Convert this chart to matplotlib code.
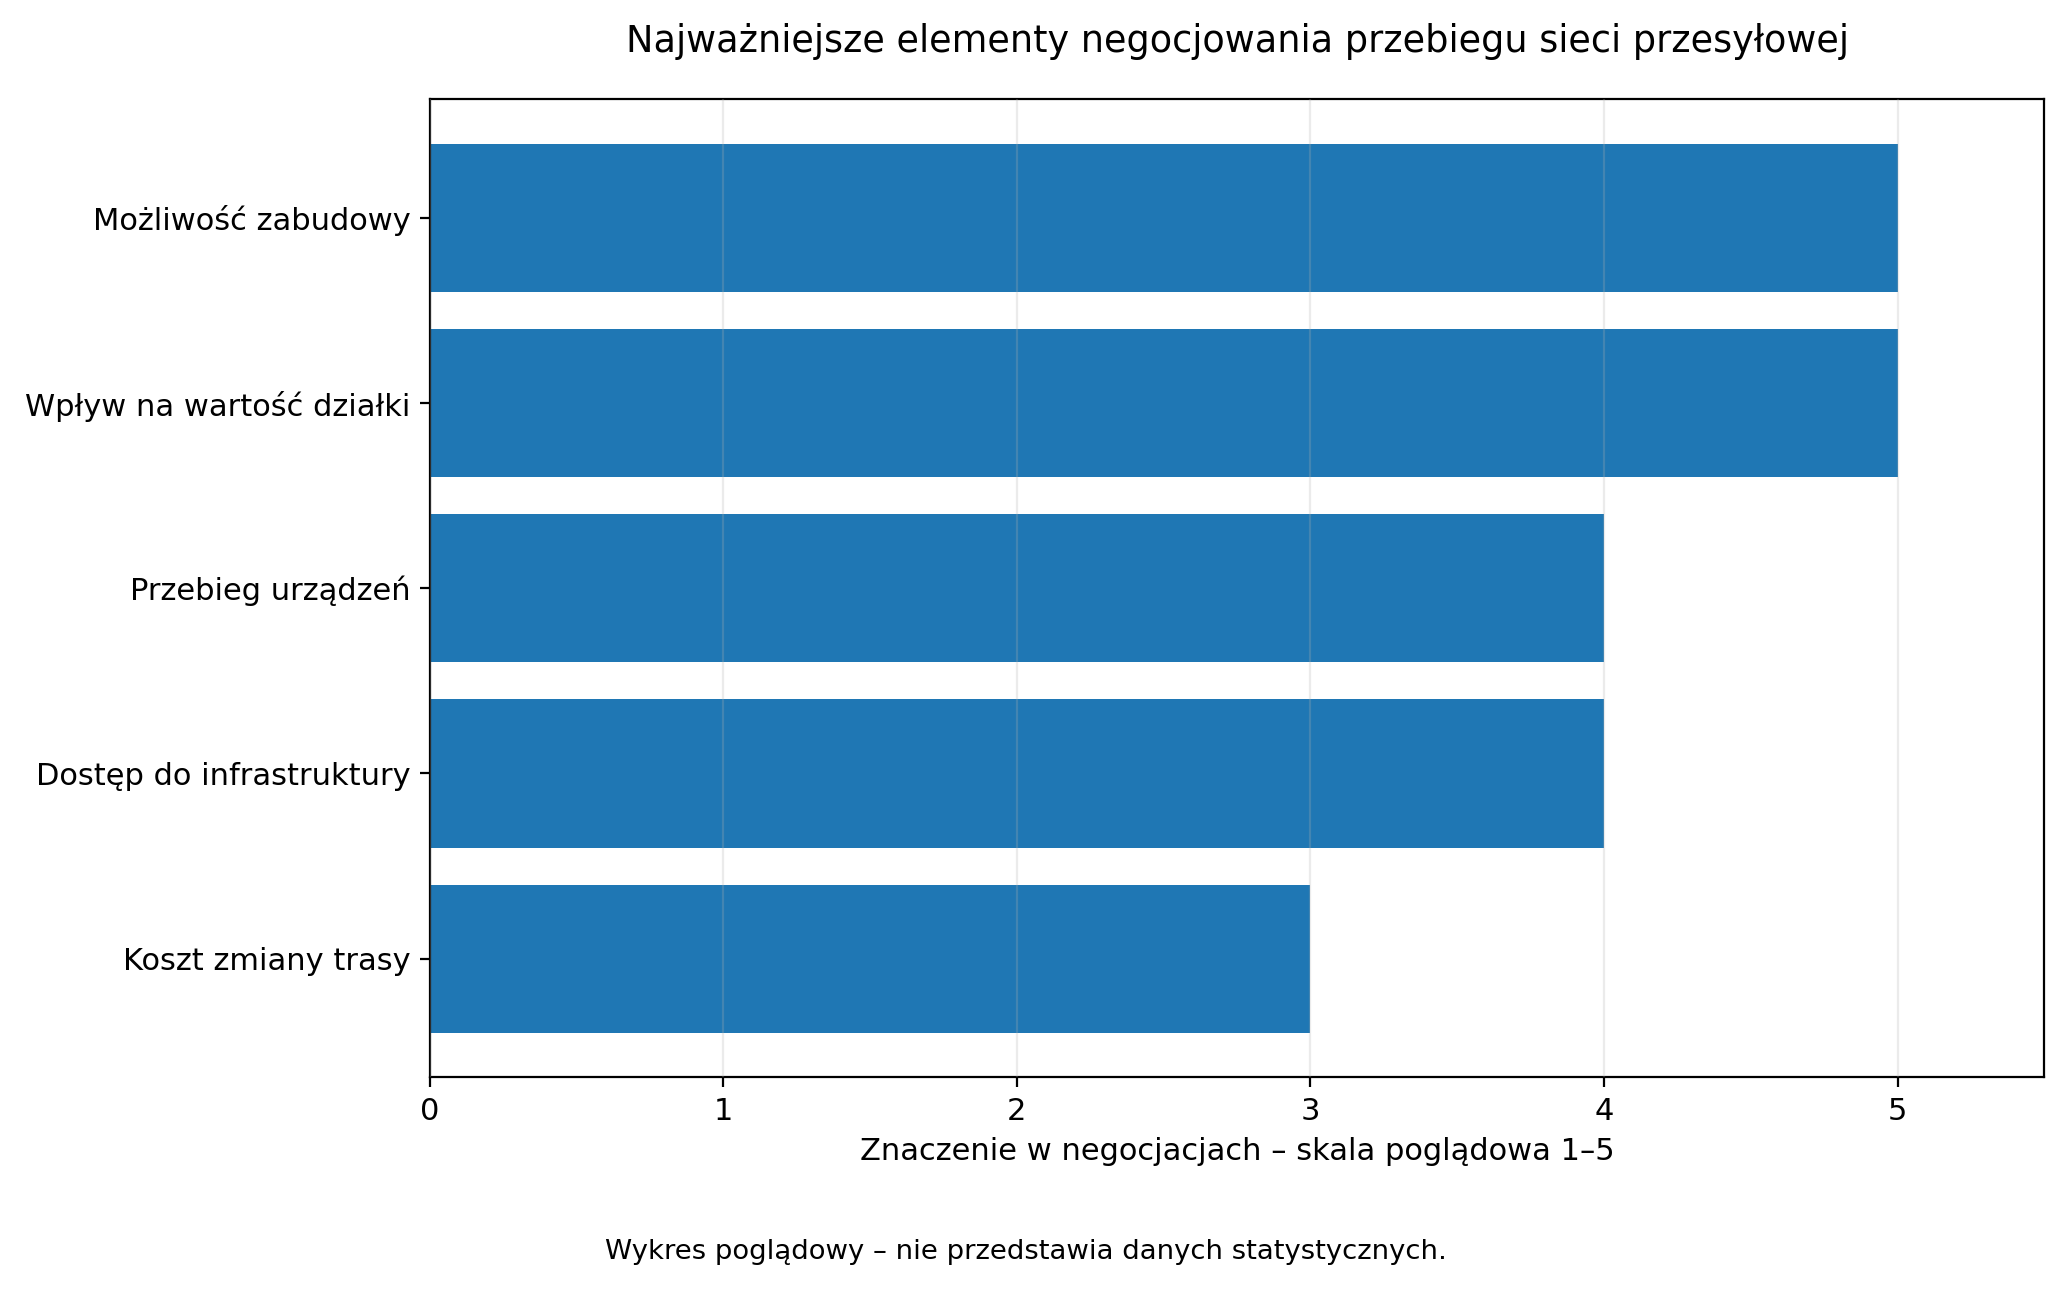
import matplotlib.pyplot as plt

categories = ['Koszt zmiany trasy', 'Dostęp do infrastruktury', 'Przebieg urządzeń',
              'Wpływ na wartość działki', 'Możliwość zabudowy']
values = [3, 4, 4, 5, 5]

plt.rcParams['font.size'] = 11

fig, ax = plt.subplots(figsize=(10.33, 6.45), dpi=200)
fig.subplots_adjust(left=0.208, right=0.9895, top=0.923, bottom=0.165)

ax.barh(categories, values, color='#1f77b4', height=0.8)
ax.set_xlim(0, 5.5)
ax.grid(axis='x', alpha=0.25)
ax.set_axisbelow(False)
ax.set_xlabel('Znaczenie w negocjacjach – skala poglądowa 1–5')
ax.set_title('Najważniejsze elementy negocjowania przebiegu sieci przesyłowej',
             fontsize=13.2, pad=17)

fig.text(0.4965, 0.024, 'Wykres poglądowy – nie przedstawia danych statystycznych.',
         ha='center', fontsize=9.9)

plt.savefig('out.png')
